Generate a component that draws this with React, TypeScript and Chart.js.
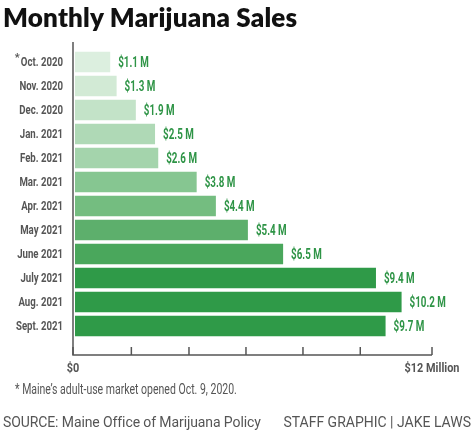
import React, { useEffect, useRef } from "react";
import { Chart, registerables } from "chart.js";

Chart.register(...registerables);

const categories = [
  "Oct. 2020", "Nov. 2020", "Dec. 2020", "Jan. 2021", "Feb. 2021", "Mar. 2021",
  "Apr. 2021", "May 2021", "June 2021", "July 2021", "Aug. 2021", "Sept. 2021",
];
const salesMillions = [1.1, 1.3, 1.9, 2.5, 2.6, 3.8, 4.4, 5.4, 6.5, 9.4, 10.2, 9.7];
const valueLabels = ["$1.1 M", "$1.3 M", "$1.9 M", "$2.5 M", "$2.6 M", "$3.8 M", "$4.4 M", "$5.4 M", "$6.5 M", "$9.4 M", "$10.2 M", "$9.7 M"];
const barColors = [
  "#dcefdf", "#d2ead5", "#c3e3c8", "#afd9b6", "#a4d4ac", "#86c691",
  "#74bd80", "#5daf6c", "#4aa75c", "#2f9a48", "#2f9a48", "#2f9a48",
];
// axis tick positions as drawn in the graphic (in the scale's units)
const axisTickValues = [0, 1.76, 3.56, 5.34, 7.12, 8.91, 11.15];
const axisTickLabels = ["$0", "", "", "", "", "", "$12 Million"];
const axisMax = 11.15;

const FONT = "Roboto, 'Noto Sans', sans-serif";

function drawScaled(ctx: any, text: string, x: number, y: number, sx: number, align: string) {
  ctx.save();
  ctx.translate(x, y);
  ctx.scale(sx, 1);
  ctx.textAlign = align;
  ctx.fillText(text, 0, 0);
  ctx.restore();
}

const decorPlugin = {
  id: "decor",
  afterDatasetsDraw(chart: any) {
    const ctx = chart.ctx;
    const xs = chart.scales.x;
    const ys = chart.scales.y;
    const area = chart.chartArea;
    const x0 = xs.getPixelForValue(0) - 2;
    const axisY = area.bottom + 17;
    ctx.save();
    // axis lines & ticks
    ctx.strokeStyle = "#555555";
    ctx.lineWidth = 1.5;
    ctx.beginPath();
    ctx.moveTo(x0, area.top - 8);
    ctx.lineTo(x0, axisY);
    ctx.lineTo(xs.getPixelForValue(axisMax), axisY);
    ctx.stroke();
    axisTickValues.forEach((v) => {
      const px = v === 0 ? x0 : xs.getPixelForValue(v);
      ctx.beginPath();
      ctx.moveTo(px, axisY);
      ctx.lineTo(px, axisY - 8);
      ctx.stroke();
    });
    // x tick labels
    ctx.fillStyle = "#555555";
    ctx.font = `bold 13px ${FONT}`;
    ctx.textBaseline = "middle";
    axisTickValues.forEach((v, i) => {
      if (!axisTickLabels[i]) return;
      const px = v === 0 ? x0 : xs.getPixelForValue(v);
      drawScaled(ctx, axisTickLabels[i], px, axisY + 14, 0.84, "center");
    });
    // category labels
    ctx.font = `bold 13px ${FONT}`;
    categories.forEach((c, i) => {
      drawScaled(ctx, c, area.left - 12, ys.getPixelForValue(i) + 1, 0.74, "right");
    });
    // asterisk
    const w = ctx.measureText(categories[0]).width * 0.74;
    ctx.font = `bold 11px ${FONT}`;
    drawScaled(ctx, "*", area.left - 12 - w - 1, ys.getPixelForValue(0) - 4, 1, "right");
    // value labels
    const meta = chart.getDatasetMeta(0);
    ctx.fillStyle = "#2e9446";
    ctx.font = `bold 14px ${FONT}`;
    meta.data.forEach((bar: any, i: number) => {
      drawScaled(ctx, valueLabels[i], bar.x + 8, bar.y + 1, 0.7, "left");
    });
    ctx.restore();
  },
};

export default function App() {
  const ref = useRef<HTMLCanvasElement | null>(null);
  useEffect(() => {
    if (!ref.current) return;
    const chart = new Chart(ref.current, {
      type: "bar",
      data: {
        labels: categories,
        datasets: [
          {
            data: salesMillions,
            backgroundColor: barColors,
            borderWidth: 0,
            barPercentage: 0.86,
            categoryPercentage: 1,
          },
        ],
      },
      options: {
        indexAxis: "y",
        responsive: false,
        animation: false,
        layout: { padding: { top: 50, right: 42, left: 0, bottom: 0 } },
        plugins: { legend: { display: false }, tooltip: { enabled: false }, title: { display: false } },
        scales: {
          x: {
            min: 0,
            max: axisMax,
            grid: { display: false, drawTicks: false },
            border: { display: false },
            ticks: { display: false },
            afterFit: (scale: any) => {
              scale.height = 93;
            },
          },
          y: {
            grid: { display: false, drawTicks: false },
            border: { display: false },
            ticks: { display: false },
            afterFit: (scale: any) => {
              scale.width = 75;
            },
          },
        },
      },
      plugins: [decorPlugin],
    } as any);
    return () => chart.destroy();
  }, []);

  return (
    <div style={{ position: "absolute", left: 0, top: 0, width: 474, height: 431, background: "#fff", overflow: "hidden" }}>
      <canvas ref={ref} width={474} height={431} style={{ position: "absolute", left: 0, top: 0, width: 474, height: 431 }} />
      <div style={{ position: "absolute", left: 3, top: 1, fontFamily: "Lato, 'Open Sans', sans-serif", fontWeight: 800, fontSize: 26, letterSpacing: 0.2, color: "#111", whiteSpace: "nowrap", lineHeight: "32px" }}>
        Monthly Marijuana Sales
      </div>
      <div style={{ position: "absolute", left: 15, top: 381, fontFamily: FONT, fontSize: 14, color: "#555", whiteSpace: "nowrap", lineHeight: "16px", transform: "scaleX(0.75)", transformOrigin: "left center" }}>
        * Maine’s adult-use market opened Oct. 9, 2020.
      </div>
      <div style={{ position: "absolute", left: 3, top: 413, fontFamily: FONT, fontSize: 14, letterSpacing: -0.1, color: "#555", whiteSpace: "nowrap", lineHeight: "18px" }}>
        SOURCE: Maine Office of Marijuana Policy
      </div>
      <div style={{ position: "absolute", right: 3, top: 413, fontFamily: FONT, fontSize: 14, color: "#555", whiteSpace: "nowrap", lineHeight: "18px" }}>
        STAFF GRAPHIC | JAKE LAWS
      </div>
    </div>
  );
}
